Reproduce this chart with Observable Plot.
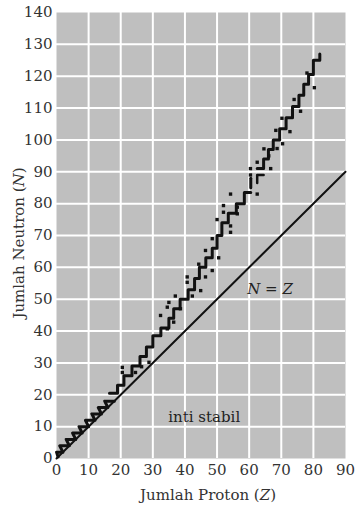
<!DOCTYPE html>
<html><head><meta charset="utf-8">
<script src="https://cdn.jsdelivr.net/npm/d3@7"></script>
<script src="https://cdn.jsdelivr.net/npm/@observablehq/plot@0.6"></script>
<style>body{margin:0;background:#fff}</style>
</head><body><div id="chart"></div>
<script>
// tick labels
const xTicks = [0,10,20,30,40,50,60,70,80,90];
const yTicks = [0,10,20,30,40,50,60,70,80,90,100,110,120,130,140];
const xGrid = [10,20,30,40,50,60,70,80];
const yGrid = [10,20,30,40,50,60,70,80,90,100,110,120,130];

// N = Z reference line
const diagZ = [0, 90];
const diagN = [0, 90];

// low-Z zigzag of stable nuclei (Z, N)
const zigZ = [0.5, 0, 2, 1, 4, 3, 6, 5, 8, 7, 10, 9, 12, 11, 14, 13, 16, 15, 18];
const zigN = [0.5, 2, 2, 4, 4, 6, 6, 8, 8, 10, 10, 12, 12, 14, 14, 16, 16, 18, 18];

// staircase of stable nuclei, part 1 (Z, N)
const stair1Z = [16.5,19,21,23.5,26,28,30,32.5,35,36.5,38.5,41,43,44.5,46.5,48.5,50,51.5,53.5,56,58.5,60.5];
const stair1N = [20.5,23,26,29,32,35,38.5,41,44,47,50,53,56.5,60,63,66,70,74,77,80,83.5,83.5];

// staircase of stable nuclei, part 2 (Z, N)
const stair2Z = [62.5,64.5,66,67.5,69.5,71.5,73.5,75.5,77,78.5,80,80,82,82];
const stair2N = [91,94,97,100,103.5,107,110.5,114,117.5,120.5,123,125,125,127];

// small fragments near Z = 60
const dashZ = [60.5, 60.5];
const dashN = [85, 88];
const hookZ = [62.5, 62.5, 64.5];
const hookN = [86.5, 89, 89];

// isolated stable nuclei (dots)
const dotZ = [20.5,20.5,24.6,26.5,28.8,32.4,34.5,34.5,36.5,38.6,35,37,40.7,40.7,42.3,44.9,44.3,46.4,48.5,46.4,48.5,50.5,54.2,54.2,50,52,52,54.2,56.3,56.3,62.5,60.4,60.4,62.5,64.6,66.1,66.7,68.7,70.4,68.3,72.7,70.2,74,76,78,80.3];
const dotN = [28.6,27,27,28.8,30.2,44.9,47.5,40.7,42.8,47,49,51,57,55.3,51,52.7,61,57,59,65.3,69,63,73,71,75,79.4,77.3,83,78.9,76.8,83,91,89,93,97.2,95,91,97.3,98.8,103,102.6,106.8,112.7,109,121,116.4];

const pts = (zs, ns) => zs.map((z, i) => ({z, n: ns[i]}));

const chart = Plot.plot({
  width: 357, height: 506,
  marginLeft: 56, marginRight: 12, marginTop: 12, marginBottom: 48,
  style: {fontFamily: "DejaVu Serif", fontSize: "15px", color: "#333", background: "#fff"},
  x: {domain: [0, 90], ticks: xTicks, tickSize: 0, tickPadding: 6, label: null},
  y: {domain: [0, 140], ticks: yTicks, tickSize: 0, tickPadding: 4, label: null},
  marks: [
    Plot.frame({fill: "#bfbfbf", stroke: null}),
    Plot.gridX(xGrid, {stroke: "#fff", strokeOpacity: 1, strokeWidth: 2}),
    Plot.gridY(yGrid, {stroke: "#fff", strokeOpacity: 1, strokeWidth: 2}),
    Plot.line(pts(diagZ, diagN), {x: "z", y: "n", stroke: "#111", strokeWidth: 2}),
    Plot.line(pts(zigZ, zigN), {x: "z", y: "n", stroke: "#111", strokeWidth: 3}),
    Plot.line(pts(stair1Z, stair1N), {x: "z", y: "n", curve: "step-after", stroke: "#111", strokeWidth: 3}),
    Plot.line(pts(stair2Z, stair2N), {x: "z", y: "n", curve: "step-after", stroke: "#111", strokeWidth: 3}),
    Plot.line(pts(dashZ, dashN), {x: "z", y: "n", stroke: "#111", strokeWidth: 3}),
    Plot.line(pts(hookZ, hookN), {x: "z", y: "n", stroke: "#111", strokeWidth: 2.5}),
    Plot.dot(pts(dotZ, dotN), {x: "z", y: "n", symbol: "square", r: 1.9, fill: "#111", stroke: null}),
    Plot.text([{z: 66.5, n: 53}], {x: "z", y: "n", text: () => "N = Z", fontStyle: "italic", fontSize: 15, fill: "#222"}),
    Plot.text([{z: 46, n: 13}], {x: "z", y: "n", text: () => "inti stabil", fontSize: 15, fill: "#222"})
  ]
});
document.getElementById("chart").appendChild(chart);

const svg = d3.select(chart);
const yl = svg.append("text")
  .attr("transform", "translate(20,243) rotate(-90)")
  .attr("text-anchor", "middle").attr("dominant-baseline", "middle")
  .attr("font-family", "DejaVu Serif").attr("font-size", 15).attr("fill", "#333");
yl.append("tspan").text("Jumlah Neutron (");
yl.append("tspan").attr("font-style", "italic").text("N");
yl.append("tspan").text(")");
const xl = svg.append("text")
  .attr("x", 208).attr("y", 500)
  .attr("text-anchor", "middle")
  .attr("font-family", "DejaVu Serif").attr("font-size", 15).attr("fill", "#333");
xl.append("tspan").text("Jumlah Proton (");
xl.append("tspan").attr("font-style", "italic").text("Z");
xl.append("tspan").text(")");
</script>
</body></html>
